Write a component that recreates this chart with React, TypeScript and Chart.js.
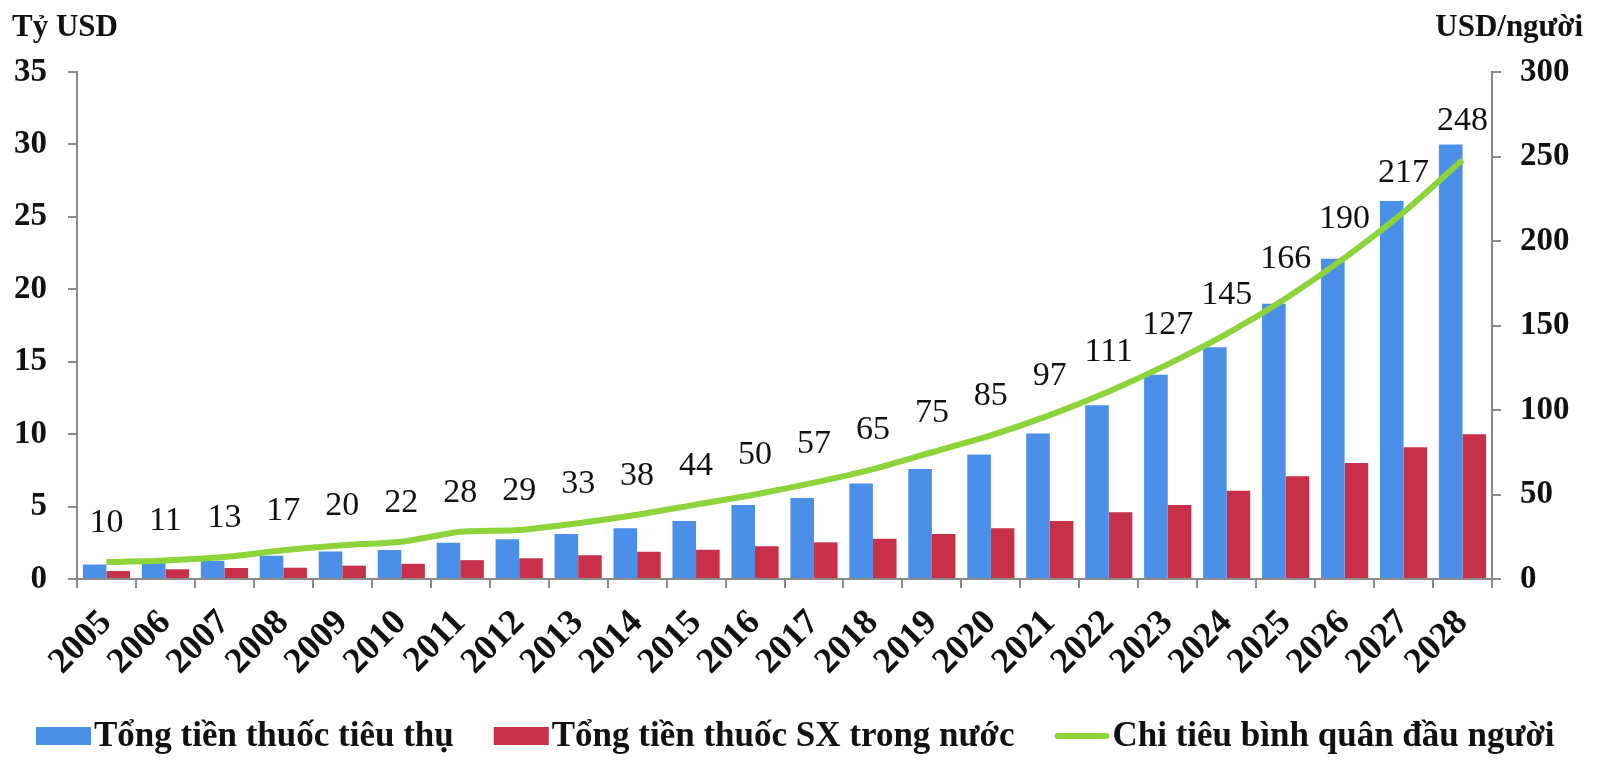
import React, { useEffect, useRef } from "react";
import { Chart, registerables } from "chart.js";

Chart.register(...registerables);

const years = ["2005","2006","2007","2008","2009","2010","2011","2012","2013","2014","2015","2016","2017","2018","2019","2020","2021","2022","2023","2024","2025","2026","2027","2028"];
const consumed = [1.0, 1.1, 1.25, 1.6, 1.9, 2.0, 2.5, 2.75, 3.1, 3.5, 4.0, 5.1, 5.6, 6.6, 7.6, 8.6, 10.05, 12.0, 14.1, 16.0, 19.0, 22.1, 26.1, 30.0];
const domestic = [0.55, 0.67, 0.76, 0.78, 0.92, 1.05, 1.3, 1.43, 1.64, 1.88, 2.02, 2.26, 2.53, 2.78, 3.1, 3.5, 4.0, 4.6, 5.1, 6.1, 7.1, 8.0, 9.1, 10.0];
const perCapita = [10, 11, 13, 17, 20, 22, 28, 29, 33, 38, 44, 50, 57, 65, 75, 85, 97, 111, 127, 145, 166, 190, 217, 248];

const seriesNames = ["Tổng tiền thuốc tiêu thụ", "Tổng tiền thuốc SX trong nước", "Chi tiêu bình quân đầu người"];
const leftTitle = "Tỷ USD";
const rightTitle = "USD/người";

const SERIF = "'Liberation Serif', 'Times New Roman', serif";
const BLUE = "#4a8fe8";
const RED = "#c8304a";
const GREEN = "#8cd43a";
const AXIS = "#8a8a8a";

const labelsPlugin = {
  id: "valueLabels",
  afterDatasetsDraw(chart: any) {
    const ctx = chart.ctx;
    const meta = chart.getDatasetMeta(2);
    ctx.save();
    ctx.font = `34px ${SERIF}`;
    ctx.fillStyle = "#111";
    ctx.textAlign = "center";
    ctx.textBaseline = "middle";
    meta.data.forEach((pt: any, i: number) => {
      ctx.fillText(String(perCapita[i]), pt.x, pt.y - 39);
    });
    ctx.restore();
  },
  afterDraw(chart: any) {
    const ctx = chart.ctx;
    ctx.save();
    // axis titles
    ctx.font = `bold 31px ${SERIF}`;
    ctx.fillStyle = "#111";
    ctx.textBaseline = "alphabetic";
    ctx.textAlign = "left";
    ctx.fillText(leftTitle, 12, 36);
    ctx.textAlign = "right";
    ctx.fillText(rightTitle, 1583, 36);

    // legend built from the chart's datasets
    const boxW = 55;
    const boxH = 18;
    const textGap = 3;
    const itemGap = 40;
    const centerY = 736;
    ctx.font = `bold 35px ${SERIF}`;
    ctx.textAlign = "left";
    ctx.textBaseline = "middle";
    let x = 36;
    chart.data.datasets.forEach((ds: any) => {
      if (ds.type === "line") {
        ctx.strokeStyle = ds.borderColor;
        ctx.lineWidth = 6;
        ctx.lineCap = "round";
        ctx.beginPath();
        ctx.moveTo(x + 3, centerY);
        ctx.lineTo(x + boxW - 3, centerY);
        ctx.stroke();
      } else {
        ctx.fillStyle = ds.backgroundColor;
        ctx.fillRect(x, centerY - boxH / 2, boxW, boxH);
      }
      ctx.fillStyle = "#111";
      const tx = x + boxW + textGap;
      ctx.fillText(ds.label, tx, centerY + 1);
      x = tx + ctx.measureText(ds.label).width + itemGap;
    });
    ctx.restore();
  },
};

export default function App() {
  const ref = useRef<HTMLCanvasElement | null>(null);
  useEffect(() => {
    if (!ref.current) return;
    const chart = new Chart(ref.current, {
      type: "bar",
      data: {
        labels: years,
        datasets: [
          {
            type: "bar",
            label: seriesNames[0],
            data: consumed,
            backgroundColor: BLUE,
            borderWidth: 0,
            yAxisID: "y",
            order: 1,
          } as any,
          {
            type: "bar",
            label: seriesNames[1],
            data: domestic,
            backgroundColor: RED,
            borderWidth: 0,
            yAxisID: "y",
            order: 2,
          } as any,
          {
            type: "line",
            label: seriesNames[2],
            data: perCapita,
            borderColor: GREEN,
            backgroundColor: GREEN,
            borderWidth: 6,
            pointRadius: 0,
            tension: 0.25,
            yAxisID: "y1",
            order: 0,
          } as any,
        ],
      },
      options: {
        animation: false,
        responsive: false,
        maintainAspectRatio: false,
        layout: { padding: { left: 0, right: 28, top: 72, bottom: 0 } },
        datasets: {
          bar: { categoryPercentage: 0.8, barPercentage: 1.0 },
        } as any,
        plugins: {
          tooltip: { enabled: false },
          title: { display: false },
          legend: { display: false },
        },
        scales: {
          x: {
            offset: true,
            grid: {
              display: true,
              drawOnChartArea: false,
              drawTicks: true,
              tickLength: 9,
              color: AXIS,
              lineWidth: 2,
              offset: true,
            },
            border: { display: true, color: AXIS, width: 2 },
            ticks: {
              autoSkip: false,
              maxRotation: 45,
              minRotation: 45,
              padding: 14,
              color: "#111",
              font: { family: SERIF, size: 36, weight: "bold" },
            },
            afterFit: (s: any) => {
              s.height = 186;
            },
          },
          y: {
            position: "left",
            min: 0,
            max: 35,
            ticks: {
              stepSize: 5,
              padding: 21,
              color: "#111",
              font: { family: SERIF, size: 33, weight: "bold" },
            },
            grid: {
              display: true,
              drawOnChartArea: false,
              tickLength: 9,
              color: AXIS,
              lineWidth: 2,
            },
            border: { display: true, color: AXIS, width: 2 },
            afterFit: (s: any) => {
              s.width = 77;
            },
          },
          y1: {
            position: "right",
            min: 0,
            max: 300,
            ticks: {
              stepSize: 50,
              padding: 19,
              color: "#111",
              font: { family: SERIF, size: 33, weight: "bold" },
            },
            grid: {
              display: true,
              drawOnChartArea: false,
              tickLength: 9,
              color: AXIS,
              lineWidth: 2,
            },
            border: { display: true, color: AXIS, width: 2 },
            afterFit: (s: any) => {
              s.width = 80;
            },
          },
        },
      },
      plugins: [labelsPlugin],
    });
    return () => chart.destroy();
  }, []);

  return (
    <div style={{ position: "fixed", left: 0, top: 0, width: 1600, height: 765, background: "#fff" }}>
      <canvas ref={ref} width={1600} height={765} style={{ width: 1600, height: 765, display: "block" }} />
    </div>
  );
}
